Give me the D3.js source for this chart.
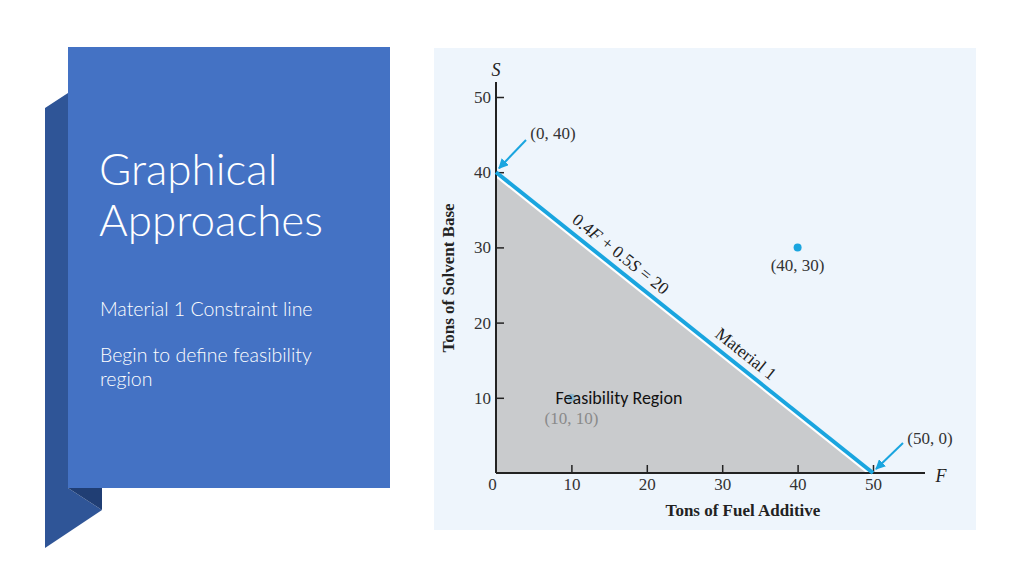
<!DOCTYPE html>
<html><head><meta charset="utf-8">
<script src="https://cdn.jsdelivr.net/npm/d3@7"></script>
<style>
html,body{margin:0;padding:0;background:#fff;}
svg{display:block;}
</style></head>
<body>
<svg id="c" width="1024" height="576"></svg>
<script>
// ---- data ----
const title = ["Graphical", "Approaches"];
const bullets = [["Material 1 Constraint line"], ["Begin to define feasibility", "region"]];
const xTicks = [0, 10, 20, 30, 40, 50];
const yTicks = [10, 20, 30, 40, 50];
const constraintF = [0, 50];
const constraintS = [40, 0];
const pointF = [40, 10];
const pointS = [30, 10];
const pointLabels = ["(40, 30)", "(10, 10)"];
const cornerLabels = ["(0, 40)", "(50, 0)"];
const xTitle = "Tons of Fuel Additive";
const yTitle = "Tons of Solvent Base";
const regionLabel = "Feasibility Region";

const svg = d3.select("#c");

// ---- left panel ----
svg.append("polygon").attr("points", "45,108 68,93 68,488 102,510 45,548").attr("fill", "#2f5597");
svg.append("polygon").attr("points", "68,488 102,488 102,510").attr("fill", "#203e74");
svg.append("rect").attr("x", 68).attr("y", 47).attr("width", 322).attr("height", 441).attr("fill", "#4472c4");
const tt = svg.append("text").attr("fill", "#fff").attr("font-family", "Lato, 'Open Sans', sans-serif")
  .attr("font-weight", 300).attr("font-size", 44);
title.forEach((t, i) => tt.append("tspan").attr("x", 99).attr("y", 185 + i * 51).text(t));
const bodyY = [[316], [362, 386]];
bullets.forEach((b, i) => {
  const t = svg.append("text").attr("fill", "#fff").attr("font-family", "Lato, 'Open Sans', sans-serif")
    .attr("font-weight", 300).attr("font-size", 19.5);
  b.forEach((line, j) => t.append("tspan").attr("x", 100).attr("y", bodyY[i][j]).text(line));
});

// ---- chart panel ----
svg.append("rect").attr("x", 434).attr("y", 48).attr("width", 542).attr("height", 482).attr("fill", "#eef5fc");

const x = d3.scaleLinear().domain([0, 50]).range([496, 873]);
const y = d3.scaleLinear().domain([0, 50]).range([473, 97]);
const blue = "#1aa5df";
const serif = "'Liberation Serif', 'DejaVu Serif', serif";
const fs = 17;

// feasible region
const region = [[0, 0]].concat(constraintF.map((f, i) => [f, constraintS[i]]));
svg.append("path").attr("d", d3.line().x(d => x(d[0])).y(d => y(d[1]))(region) + "Z")
  .attr("fill", "#c9cbcd");
svg.append("path").attr("d", d3.line().x(d => x(d[0])).y(d => y(d[1]))(constraintF.map((f, i) => [f, constraintS[i]])))
  .attr("stroke", "#ffffff").attr("stroke-width", 6).attr("fill", "none").attr("transform", "translate(0,1.5)");

// axes
const gx = svg.append("g").attr("transform", `translate(0,${y(0)})`)
  .call(d3.axisBottom(x).tickValues(xTicks).tickSize(-8).tickSizeOuter(0).tickPadding(5).tickFormat(d3.format("d")));
gx.select(".domain").remove();
gx.selectAll(".tick line").attr("stroke", "#222").attr("stroke-width", 1.5);
gx.selectAll(".tick text").attr("font-family", serif).attr("font-size", fs).attr("fill", "#333");
gx.selectAll(".tick").filter(d => d === 0).select("line").remove();
gx.selectAll(".tick").filter(d => d === 0).select("text").attr("dx", -4);

const gy = svg.append("g").attr("transform", `translate(${x(0)},0)`)
  .call(d3.axisLeft(y).tickValues(yTicks).tickSize(-8).tickSizeOuter(0).tickPadding(5).tickFormat(d3.format("d")));
gy.select(".domain").remove();
gy.selectAll(".tick line").attr("stroke", "#222").attr("stroke-width", 1.5);
gy.selectAll(".tick text").attr("font-family", serif).attr("font-size", fs).attr("fill", "#333");

svg.append("line").attr("x1", x(0)).attr("x2", 925).attr("y1", y(0)).attr("y2", y(0)).attr("stroke", "#222").attr("stroke-width", 2);
svg.append("line").attr("x1", x(0)).attr("x2", x(0)).attr("y1", y(0)).attr("y2", 82).attr("stroke", "#222").attr("stroke-width", 2);
svg.append("text").attr("x", 941).attr("y", 482).attr("text-anchor", "middle").attr("font-family", serif)
  .attr("font-style", "italic").attr("font-size", 18).attr("fill", "#222").text("F");
svg.append("text").attr("x", x(0)).attr("y", 76).attr("text-anchor", "middle").attr("font-family", serif)
  .attr("font-style", "italic").attr("font-size", 18).attr("fill", "#222").text("S");

svg.append("text").attr("x", 743).attr("y", 516).attr("text-anchor", "middle").attr("font-family", serif)
  .attr("font-weight", "bold").attr("font-size", 17).attr("fill", "#222").text(xTitle);
svg.append("text").attr("transform", "translate(454,278) rotate(-90)").attr("text-anchor", "middle").attr("font-family", serif)
  .attr("font-weight", "bold").attr("font-size", 17).attr("fill", "#222").text(yTitle);

// constraint line
svg.append("path").attr("d", d3.line().x(d => x(d[0])).y(d => y(d[1]))(constraintF.map((f, i) => [f, constraintS[i]])))
  .attr("stroke", blue).attr("stroke-width", 4).attr("fill", "none");

const ang = Math.atan2(y(constraintS[1]) - y(constraintS[0]), x(constraintF[1]) - x(constraintF[0])) * 180 / Math.PI;
function onLine(f) { return [x(f), y(40 - 0.8 * f)]; }
const p1 = onLine(15.4);
const eq = svg.append("text").attr("transform", `translate(${p1[0]},${p1[1]}) rotate(${ang})`).attr("dy", -8)
  .attr("text-anchor", "middle").attr("font-family", serif).attr("font-size", 17.5).attr("fill", "#222");
eq.append("tspan").text("0.4");
eq.append("tspan").attr("font-style", "italic").text("F");
eq.append("tspan").text(" + 0.5");
eq.append("tspan").attr("font-style", "italic").text("S");
eq.append("tspan").text(" = 20");
const p2 = onLine(32.0);
svg.append("text").attr("transform", `translate(${p2[0]},${p2[1]}) rotate(${ang})`).attr("dy", -8)
  .attr("text-anchor", "middle").attr("font-family", serif).attr("font-size", 17.5).attr("fill", "#222").text("Material 1");

// points
const pts = pointF.map((f, i) => ({ f, s: pointS[i], l: pointLabels[i], i }));
svg.selectAll("circle.pt").data(pts).join("circle")
  .attr("class", "pt").attr("cx", d => x(d.f)).attr("cy", d => y(d.s)).attr("r", 4)
  .attr("fill", d => d.i === 0 ? blue : "#8cb7cf");
svg.selectAll("text.pl").data(pts).join("text")
  .attr("class", "pl").attr("x", d => x(d.f)).attr("y", d => y(d.s) + (d.i === 0 ? 24 : 26)).attr("text-anchor", "middle")
  .attr("font-family", serif).attr("font-size", fs).attr("fill", d => d.i === 0 ? "#333" : "#8a8a8a").text(d => d.l);

// arrows
const defs = svg.append("defs");
defs.append("marker").attr("id", "ah").attr("viewBox", "0 0 10 10").attr("refX", 9).attr("refY", 5)
  .attr("markerWidth", 5).attr("markerHeight", 5).attr("orient", "auto")
  .append("path").attr("d", "M0,0 L10,5 L0,10 Z").attr("fill", blue);
const corners = constraintF.map((f, i) => ({ f, s: constraintS[i], l: cornerLabels[i] }));
const arrowStart = [[526, 140], [903, 443]];
const labelPos = [[553, 139], [930, 444]];
corners.forEach((c, i) => {
  svg.append("line").attr("x1", arrowStart[i][0]).attr("y1", arrowStart[i][1])
    .attr("x2", x(c.f) + 3).attr("y2", y(c.s) - 4).attr("stroke", blue).attr("stroke-width", 2).attr("marker-end", "url(#ah)");
  svg.append("text").attr("x", labelPos[i][0]).attr("y", labelPos[i][1]).attr("text-anchor", "middle")
    .attr("font-family", serif).attr("font-size", fs).attr("fill", "#333").text(c.l);
});

svg.append("text").attr("x", 619).attr("y", 404).attr("text-anchor", "middle")
  .attr("font-family", "Carlito, 'Open Sans', Lato, sans-serif").attr("font-size", 18).attr("fill", "#111").text(regionLabel);
</script>
</body></html>
